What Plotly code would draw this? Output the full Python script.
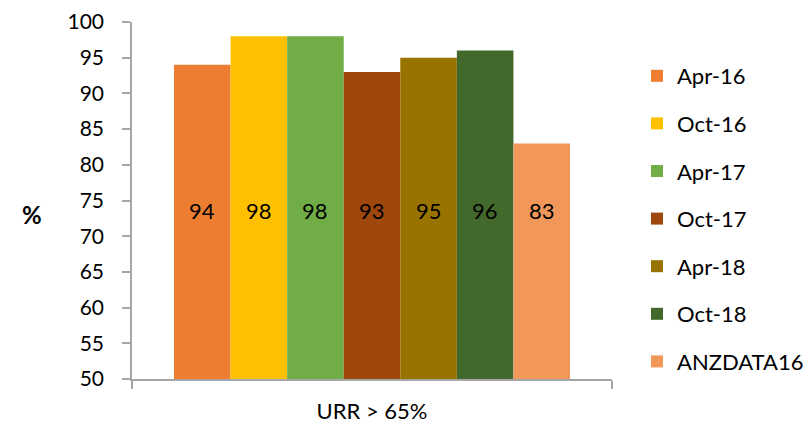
import plotly.graph_objects as go

# Data
category = "URR > 65%"
periods = ["Apr-16", "Oct-16", "Apr-17", "Oct-17", "Apr-18", "Oct-18", "ANZDATA16"]
values = [94, 98, 98, 93, 95, 96, 83]
colors = ["#ED7D31", "#FFC000", "#70AD47", "#9E480E", "#997300", "#43682B", "#F1975A"]
y_ticks = list(range(50, 101, 5))

FONT = "Lato, 'Open Sans', sans-serif"
AXIS_COLOR = "#A6A6A6"
BARGAP = 0.175
LABEL_LEVEL = 73.6  # value-label height, in axis units
FS = 21

fig = go.Figure()
for i, (name, val, col) in enumerate(zip(periods, values, colors)):
    fig.add_trace(go.Bar(
        x=[0], y=[val], name=name, marker=dict(color=col, line=dict(width=0)),
        legendgroup=name,
    ))

# value labels, placed at the centre of each grouped bar
n = len(periods)
group_w = 1 - BARGAP
for i, val in enumerate(values):
    xc = -group_w / 2 + (i + 0.5) * group_w / n
    fig.add_annotation(x=xc, y=LABEL_LEVEL, xref="x", yref="y", text=str(val),
                       showarrow=False, font=dict(family=FONT, size=22, color="#000000"))

# horizontal y-axis title
fig.add_annotation(x=(20 - 132) / 480, y=73, xref="paper", yref="y", text="<b>%</b>",
                   showarrow=False, font=dict(family=FONT, size=24, color="#000000"))

fig.update_layout(
    width=810, height=425,
    margin=dict(l=132, r=198, t=22, b=46),
    paper_bgcolor="white", plot_bgcolor="white",
    barmode="group", bargap=BARGAP, bargroupgap=0,
    font=dict(family=FONT, size=FS, color="#000000"),
    showlegend=True,
    legend=dict(xref="container", yref="container", x=637 / 810, xanchor="left",
                y=(425 - 219) / 425, yanchor="middle",
                font=dict(family=FONT, size=22), tracegroupgap=16,
                bgcolor="rgba(0,0,0,0)", maxheight=1.0),
    xaxis=dict(range=[-0.5, 0.5], tickvals=[0], ticktext=[category],
               ticks="", showline=True, linecolor=AXIS_COLOR, linewidth=1.5,
               showgrid=False, zeroline=False, ticklabelstandoff=12,
               automargin=False, tickfont=dict(size=22),
               minor=dict(tick0=-0.5, dtick=1, ticks="outside", ticklen=8,
                          tickcolor=AXIS_COLOR, tickwidth=1.5, showgrid=False)),
    yaxis=dict(range=[50, 100], tickvals=y_ticks, ticks="outside", ticklen=8,
               tickcolor=AXIS_COLOR, tickwidth=1.5, showline=True,
               linecolor=AXIS_COLOR, linewidth=1.5, showgrid=False,
               zeroline=False, ticklabelstandoff=14, automargin=False),
)

fig.write_html("out.html")
